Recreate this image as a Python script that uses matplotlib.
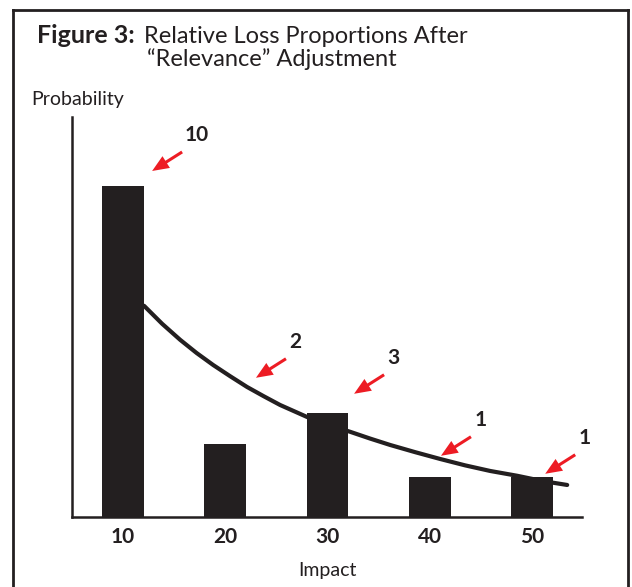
import numpy as np
import matplotlib.pyplot as plt
from matplotlib.lines import Line2D

plt.rcParams['font.family'] = ['Lato', 'DejaVu Sans']

INK = '#231f20'
RED = '#ed1c24'

# Data
impact = [10, 20, 30, 40, 50]
probability = [8.28, 1.83, 2.6, 1.0, 1.0]
tick_labels = ['10', '20', '30', '40', '50']

# fitted curve, read point by point
curve_x = [12.05, 13.82, 15.58, 17.19, 18.81, 20.47, 22.13, 23.75, 25.36, 26.68, 28.0,
           30.11, 32.21, 34.17, 36.13, 38.58, 41.02, 43.47, 45.92, 48.56, 51.0, 53.45]
curve_y = [5.28, 4.83, 4.43, 4.1, 3.8, 3.52, 3.25, 3.02, 2.8, 2.65, 2.5,
           2.3, 2.13, 1.96, 1.8, 1.62, 1.45, 1.29, 1.15, 1.03, 0.9, 0.8]

# relevance counts and where their arrows point
counts = ['10', '2', '3', '1', '1']
arrow_x = [12.84, 23.0, 32.6, 41.1, 51.3]
arrow_y = [8.65, 3.48, 3.08, 1.53, 1.08]

fig = plt.figure(figsize=(6.32, 5.87), dpi=100)
ax = fig.add_axes([0.1139, 0.1193, 0.807, 0.6814])

ax.bar(impact, probability, width=4.1, color=INK, zorder=2)
ax.plot(curve_x, curve_y, color=INK, lw=3.0, solid_capstyle='round',
        solid_joinstyle='round', zorder=3)

for lab, x, y in zip(counts, arrow_x, arrow_y):
    ax.annotate('', xy=(x, y), xytext=(21.6, 13.7), textcoords='offset points',
                arrowprops=dict(facecolor=RED, edgecolor='none', width=2.2,
                                headwidth=10, headlength=12, shrink=0))
    dx = 31.7 if lab == '10' else 28.5
    ax.annotate(lab, xy=(x, y), xytext=(dx, 26), textcoords='offset points',
                ha='center', va='center', fontsize=15, fontweight='bold', color=INK)

ax.set_xlim(5, 54.9)
ax.set_ylim(0, 10)
ax.set_xticks(impact)
ax.set_xticklabels(tick_labels, fontsize=15, fontweight='bold', color=INK)
ax.set_yticks([])
ax.tick_params(axis='x', length=0, pad=7)

for s in ['top', 'right']:
    ax.spines[s].set_visible(False)
for s in ['left', 'bottom']:
    ax.spines[s].set_linewidth(1.8)
    ax.spines[s].set_color(INK)

ax.set_xlabel('Impact', fontsize=14, color=INK, labelpad=11)
fig.text(31 / 632, 1 - 105 / 587, 'Probability', fontsize=14, color=INK, va='baseline')

# title
fig.text(37 / 632, 1 - 43 / 587, 'Figure 3:', fontsize=18, fontweight='bold', color=INK, va='baseline')
fig.text(144 / 632, 1 - 43 / 587, 'Relative Loss Proportions After', fontsize=17, color=INK, va='baseline')
fig.text(147 / 632, 1 - 66 / 587, '\u201cRelevance\u201d Adjustment', fontsize=17, color=INK, va='baseline')

# frame around the figure
top = 1 - 10 / 587
lx, rx = 13 / 632, 628 / 632
for xs, ys in [([lx, rx], [top, top]), ([lx, lx], [top, -0.01]), ([rx, rx], [top, -0.01])]:
    fig.add_artist(Line2D(xs, ys, color=INK, lw=2.0, transform=fig.transFigure))

fig.savefig('out.png', dpi=100)
